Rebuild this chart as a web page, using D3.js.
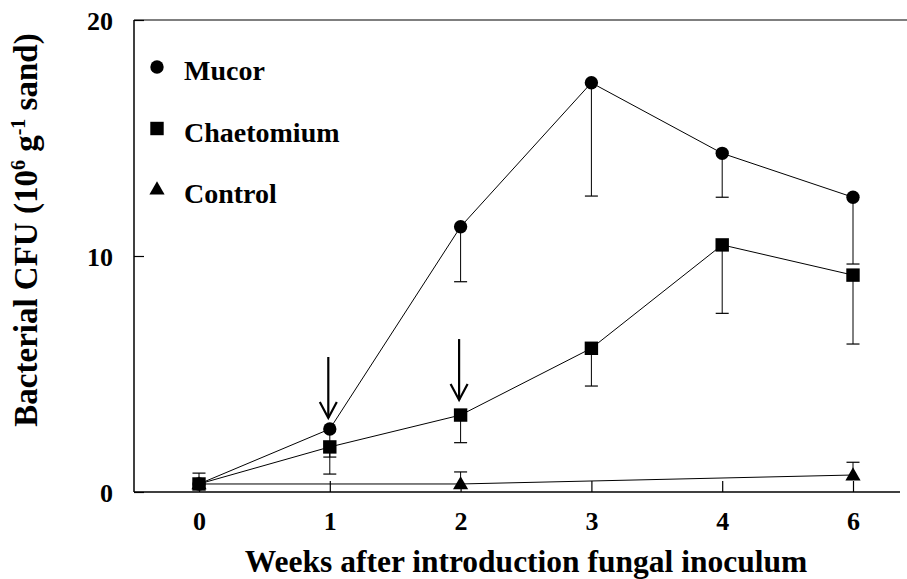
<!DOCTYPE html>
<html>
<head>
<meta charset="utf-8">
<script src="https://cdn.jsdelivr.net/npm/d3@7"></script>
<style>
  body { margin: 0; background: #fff; }
  text { font-family: "Liberation Serif", "Times New Roman", serif; font-weight: bold; fill: #000; }
</style>
</head>
<body>
<div id="chart"></div>
<script>
// weeks after introduction of the fungal inoculum
var weeks = ["0", "1", "2", "3", "4", "6"];

// Mucor: mean and lower error bar end
var mucor = [0.34, 2.67, 11.24, 17.34, 14.35, 12.49];
var mucorLow = [null, 1.48, 8.91, 12.54, 12.49, 9.66];

// Chaetomium: mean and error bar end (week 0 bar goes up)
var chaet = [0.34, 1.91, 3.26, 6.09, 10.47, 9.19];
var chaetErr = [0.80, 0.76, 2.09, 4.49, 7.57, 6.27];

// Control: only weeks 0, 2 and 6 measured
var ctrlWeeks = ["0", "2", "6"];
var ctrl = [0.34, 0.34, 0.72];
var ctrlHigh = [null, 0.85, 1.26];

var yTicks = [0, 10, 20];

// arrows marking inoculation (week, from, to)
var arrows = [["1", 5.72, 3.14], ["2", 6.48, 3.9]];

var legendNames = ["Mucor", "Chaetomium", "Control"];

var W = 907, H = 579;
var svg = d3.select("#chart").append("svg")
	.attr("width", W)
	.attr("height", H);

var x = d3.scalePoint().domain(weeks).range([199, 853]);
var y = d3.scaleLinear().domain([0, 20]).range([492, 20]);

var left = 134;

// frame: left axis, bottom axis, top line
svg.append("line").attr("x1", left).attr("x2", left).attr("y1", y(20)).attr("y2", y(0))
	.attr("stroke", "#000").attr("stroke-width", 1.5);
svg.append("line").attr("x1", left).attr("x2", 900).attr("y1", y(0)).attr("y2", y(0))
	.attr("stroke", "#000").attr("stroke-width", 1.5);
svg.append("line").attr("x1", left).attr("x2", 907).attr("y1", y(20)).attr("y2", y(20))
	.attr("stroke", "#000").attr("stroke-width", 1.2);

// x axis (ticks point inward)
var xAxis = svg.append("g")
	.attr("transform", "translate(0," + y(0) + ")")
	.call(d3.axisBottom(x).tickSizeInner(-11).tickSizeOuter(0).tickPadding(22));
xAxis.select(".domain").remove();
xAxis.selectAll("line").attr("stroke", "#000").attr("stroke-width", 1.2);
xAxis.selectAll("text").attr("font-size", 26).style("font-size", "26px").attr("dy", "0.6em");

// y axis
var yAxis = svg.append("g")
	.attr("transform", "translate(" + left + ",0)")
	.call(d3.axisLeft(y).tickValues(yTicks).tickSizeInner(-10).tickSizeOuter(0).tickPadding(21));
yAxis.select(".domain").remove();
yAxis.selectAll("line").attr("stroke", "#000").attr("stroke-width", 1.2);
yAxis.selectAll("text").attr("font-size", 26).style("font-size", "26px").attr("dy", "0.35em");

// axis titles
svg.append("text")
	.attr("x", 526).attr("y", 572)
	.attr("text-anchor", "middle")
	.style("font-size", "31.5px")
	.text("Weeks after introduction fungal inoculum");

var yt = svg.append("text")
	.attr("transform", "translate(37,230) rotate(-90)")
	.attr("text-anchor", "middle")
	.style("font-size", "33px");
yt.append("tspan").text("Bacterial CFU (10");
yt.append("tspan").attr("dy", -12).style("font-size", "20px").text("6");
yt.append("tspan").attr("dy", 12).text(" g");
yt.append("tspan").attr("dy", -12).style("font-size", "20px").text("-1");
yt.append("tspan").attr("dy", 12).text(" sand)");

var line = d3.line()
	.x(function (d) { return x(d[0]); })
	.y(function (d) { return y(d[1]); });

function pairs(ws, vs) {
	return ws.map(function (w, i) { return [w, vs[i]]; });
}

function errBars(ws, vs, ends) {
	var g = svg.append("g");
	ws.forEach(function (w, i) {
		if (ends[i] == null) return;
		var cx = x(w);
		g.append("line").attr("x1", cx).attr("x2", cx).attr("y1", y(vs[i])).attr("y2", y(ends[i]))
			.attr("stroke", "#000").attr("stroke-width", 1);
		g.append("line").attr("x1", cx - 6.5).attr("x2", cx + 6.5).attr("y1", y(ends[i])).attr("y2", y(ends[i]))
			.attr("stroke", "#000").attr("stroke-width", 1.2);
	});
}

// lines
svg.append("path").datum(pairs(ctrlWeeks, ctrl)).attr("d", line)
	.attr("fill", "none").attr("stroke", "#000").attr("stroke-width", 1);
svg.append("path").datum(pairs(weeks, chaet)).attr("d", line)
	.attr("fill", "none").attr("stroke", "#000").attr("stroke-width", 1);
svg.append("path").datum(pairs(weeks, mucor)).attr("d", line)
	.attr("fill", "none").attr("stroke", "#000").attr("stroke-width", 1);

// error bars
errBars(ctrlWeeks, ctrl, ctrlHigh);
errBars(weeks, chaet, chaetErr);
errBars(weeks, mucor, mucorLow);

var circleSym = d3.symbol().type(d3.symbolCircle).size(140);
var squareSym = d3.symbol().type(d3.symbolSquare).size(180);
var triSym = d3.symbol().type(d3.symbolTriangle).size(100);

function markers(ws, vs, sym, dy) {
	svg.append("g").selectAll("path")
		.data(pairs(ws, vs))
		.join("path")
		.attr("d", sym)
		.attr("transform", function (d) { return "translate(" + x(d[0]) + "," + (y(d[1]) + dy) + ")"; })
		.attr("fill", "#000");
}

markers(ctrlWeeks, ctrl, triSym, 1);
markers(weeks, mucor, circleSym, 0);
markers(weeks, chaet, squareSym, 0);

// arrows
arrows.forEach(function (a) {
	var ax = x(a[0]) - 1.5, y1 = y(a[1]), y2 = y(a[2]);
	svg.append("line").attr("x1", ax).attr("x2", ax).attr("y1", y1).attr("y2", y2)
		.attr("stroke", "#000").attr("stroke-width", 2.2);
	svg.append("path")
		.attr("d", "M" + (ax - 8.5) + "," + (y2 - 16) + "L" + ax + "," + y2 + "L" + (ax + 8.5) + "," + (y2 - 16))
		.attr("fill", "none").attr("stroke", "#000").attr("stroke-width", 2.2);
});

// legend
var legSyms = [circleSym, squareSym, triSym];
legendNames.forEach(function (name, i) {
	var ly = 74 + i * 61.5;
	svg.append("path")
		.attr("d", legSyms[i])
		.attr("transform", "translate(157," + (ly - 7) + ")")
		.attr("fill", "#000");
	svg.append("text")
		.attr("x", 184).attr("y", ly + 6)
		.style("font-size", "28px")
		.text(name);
});
</script>
</body>
</html>
